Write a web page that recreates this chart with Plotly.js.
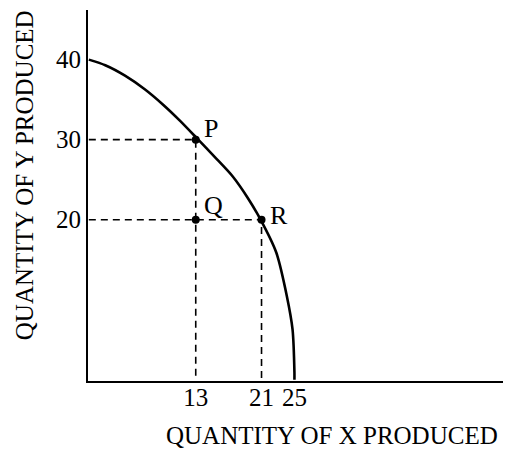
<!DOCTYPE html>
<html>
<head>
<meta charset="utf-8">
<script src="https://cdn.plot.ly/plotly-3.0.1.min.js"></script>
<style>html,body{margin:0;padding:0;background:#fff;}#chart{width:526px;height:451px;}</style>
</head>
<body>
<div id="chart"></div>
<script>
// Production possibilities frontier
const curveX = [0, 2.0, 4.4, 6.8, 9.0, 11.1, 13.16, 15.3, 17.5, 19.31, 20.87, 22.79, 24.08, 24.77, 25.0, 25];
const curveY = [40, 39.3, 38.0, 36.3, 34.4, 32.35, 30.16, 27.85, 25.4, 22.75, 20.04, 15.9, 10.45, 6.3, 0.9, 0];
// Labelled points
const pointNames = ["P", "Q", "R"];
const pointX = [13, 13, 21];
const pointY = [30, 20, 20];
// Tick labels
const xTicks = [13, 21, 25];
const yTicks = [20, 30, 40];
const xTitle = "QUANTITY OF X PRODUCED";
const yTitle = "QUANTITY OF Y PRODUCED";

const FONT = "Liberation Serif, Times New Roman, serif";
const dashStyle = {color: "#000", width: 1.6, dash: "7px,5px"};

const traces = [];
// dashed guides to the two frontier points P and R
[0, 2].forEach(i => {
  traces.push({x: [0, pointX[i], pointX[i]], y: [pointY[i], pointY[i], 0],
    mode: "lines", line: dashStyle, hoverinfo: "skip", showlegend: false});
});
traces.push({x: curveX, y: curveY, mode: "lines",
  line: {color: "#000", width: 2.6, shape: "spline", smoothing: 0.7},
  showlegend: false, hoverinfo: "skip"});
traces.push({x: pointX, y: pointY, mode: "markers",
  marker: {color: "#000", size: 8}, showlegend: false, hoverinfo: "skip"});

const labelShift = {P: [6, 11], Q: [6, 14], R: [6, 4]};
const annotations = pointNames.map((n, i) => ({
  x: pointX[i], y: pointY[i], xref: "x", yref: "y", text: n, showarrow: false,
  xanchor: "left", yanchor: "middle", xshift: labelShift[n][0], yshift: labelShift[n][1],
  font: {family: FONT, size: 26, color: "#000"}
}));
annotations.push({x: 0.588, y: -0.148, xref: "paper", yref: "paper", text: xTitle,
  showarrow: false, xanchor: "center", yanchor: "middle",
  font: {family: FONT, size: 25, color: "#000"}});
annotations.push({x: -0.154, y: 0.555, xref: "paper", yref: "paper", text: yTitle,
  showarrow: false, xanchor: "center", yanchor: "middle", textangle: -90,
  font: {family: FONT, size: 25, color: "#000"}});

const layout = {
  width: 526, height: 451,
  margin: {l: 88, r: 23, t: 10, b: 70},
  paper_bgcolor: "#fff", plot_bgcolor: "#fff",
  showlegend: false,
  xaxis: {range: [-0.1, 50.36], showgrid: false, zeroline: false, showline: true,
    linecolor: "#000", linewidth: 2, ticks: "", ticklabelstandoff: -7,
    tickvals: xTicks, ticktext: xTicks.map(String),
    tickfont: {family: FONT, size: 25, color: "#000"}, fixedrange: true},
  yaxis: {range: [-0.15, 46.2], showgrid: false, zeroline: false, showline: true,
    linecolor: "#000", linewidth: 2, ticks: "", tickvals: yTicks, ticktext: yTicks.map(String),
    tickfont: {family: FONT, size: 25, color: "#000"}, fixedrange: true},
  annotations: annotations
};
Plotly.newPlot("chart", traces, layout, {displayModeBar: false, staticPlot: true});
</script>
</body>
</html>
